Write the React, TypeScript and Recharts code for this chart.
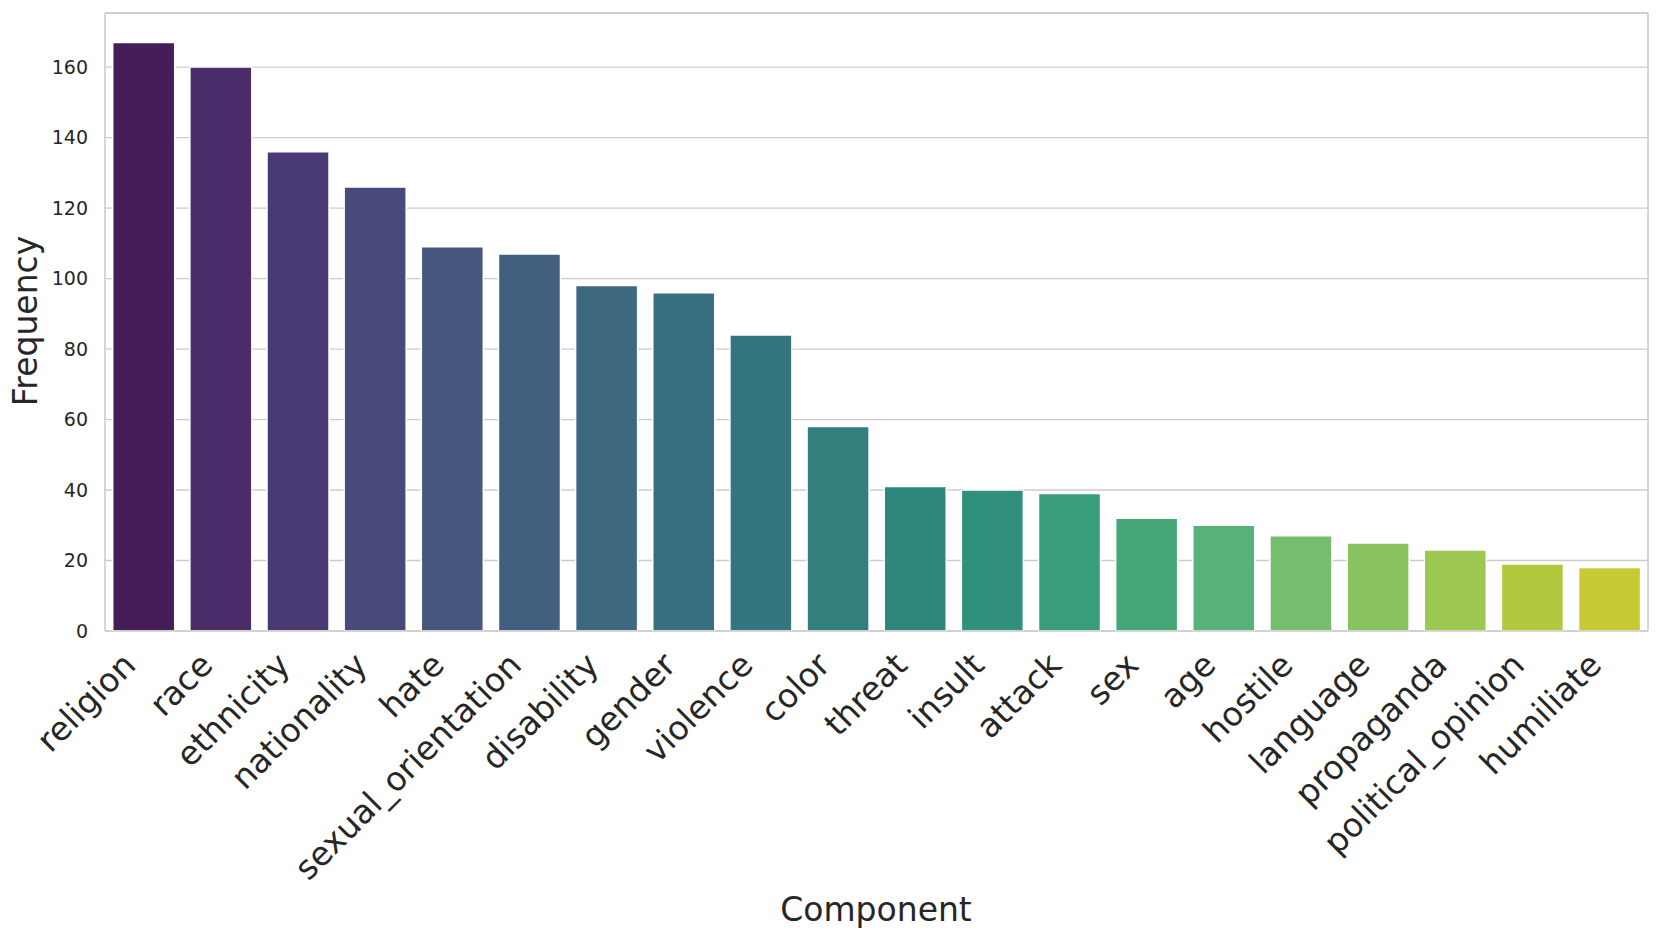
import { BarChart, Bar, XAxis, YAxis, CartesianGrid, Cell } from 'recharts'

const components = [
  'religion', 'race', 'ethnicity', 'nationality', 'hate', 'sexual_orientation',
  'disability', 'gender', 'violence', 'color', 'threat', 'insult', 'attack',
  'sex', 'age', 'hostile', 'language', 'propaganda', 'political_opinion', 'humiliate',
]
const frequencies = [167, 160, 136, 126, 109, 107, 98, 96, 84, 58, 41, 40, 39, 32, 30, 27, 25, 23, 19, 18]
const barColors = [
  '#461c59', '#4a2d6a', '#4a3a74', '#494a7b', '#46567e', '#425f7f', '#3e6780',
  '#376f80', '#337680', '#327f7e', '#2e877a', '#30907c', '#389d7d', '#46a678',
  '#58b176', '#74be6e', '#88c35f', '#9cc750', '#b1c73c', '#c8ca33',
]
const yTicks = [0, 20, 40, 60, 80, 100, 120, 140, 160]
const yMax = 175.35

const data = components.map((name, i) => ({ name, value: frequencies[i] }))

const TEXT = '#262626'
const GRID = '#cccccc'
const FONT = '"DejaVu Sans", sans-serif'

const XTick = ({ x, y, payload }: any) => (
  <text
    x={x - 6}
    y={y + 36}
    transform={`rotate(-45, ${x - 6}, ${y + 36})`}
    textAnchor="end"
    fill={TEXT}
    fontSize={33}
    fontFamily={FONT}
  >
    {payload.value}
  </text>
)

const YTick = ({ x, y, payload }: any) => (
  <text x={x} y={y} dy={6.5} textAnchor="end" fill={TEXT} fontSize={19} fontFamily={FONT}>
    {payload.value}
  </text>
)

const XLabel = () => (
  <text x={876} y={921} textAnchor="middle" fill={TEXT} fontSize={33} fontFamily={FONT}>
    Component
  </text>
)

const YLabel = () => (
  <text
    x={37}
    y={321}
    transform="rotate(-90, 37, 321)"
    textAnchor="middle"
    fill={TEXT}
    fontSize={33}
    fontFamily={FONT}
  >
    Frequency
  </text>
)

export default function App() {
  return (
    <div style={{ width: 1660, height: 939, background: '#fff' }}>
      <style>{`body { margin: 0; }`}</style>
      <BarChart
        width={1660}
        height={939}
        data={data}
        margin={{ top: 12, right: 0, left: 0, bottom: 0 }}
        barCategoryGap="10%"
      >
        <CartesianGrid horizontal vertical={false} stroke={GRID} strokeWidth={1.3} />
        <XAxis
          dataKey="name"
          interval={0}
          height={308}
          tickLine={false}
          tickSize={0}
          tickMargin={0}
          axisLine={{ stroke: GRID, strokeWidth: 1.6 }}
          tick={<XTick />}
          label={<XLabel />}
        />
        <XAxis
          xAxisId="top"
          orientation="top"
          dataKey="name"
          height={1}
          tick={false}
          tickLine={false}
          axisLine={{ stroke: GRID, strokeWidth: 1.6 }}
        />
        <YAxis
          width={105}
          domain={[0, yMax]}
          ticks={yTicks}
          tickLine={false}
          tickSize={0}
          tickMargin={17}
          axisLine={{ stroke: GRID, strokeWidth: 1.6 }}
          tick={<YTick />}
          label={<YLabel />}
        />
        <YAxis
          yAxisId="right"
          orientation="right"
          width={12}
          domain={[0, yMax]}
          tick={false}
          tickLine={false}
          axisLine={{ stroke: GRID, strokeWidth: 1.6 }}
        />
        <Bar dataKey="value" isAnimationActive={false} stroke="#ffffff" strokeWidth={1.5}>
          {data.map((d, i) => (
            <Cell key={d.name} fill={barColors[i]} />
          ))}
        </Bar>
      </BarChart>
    </div>
  )
}
